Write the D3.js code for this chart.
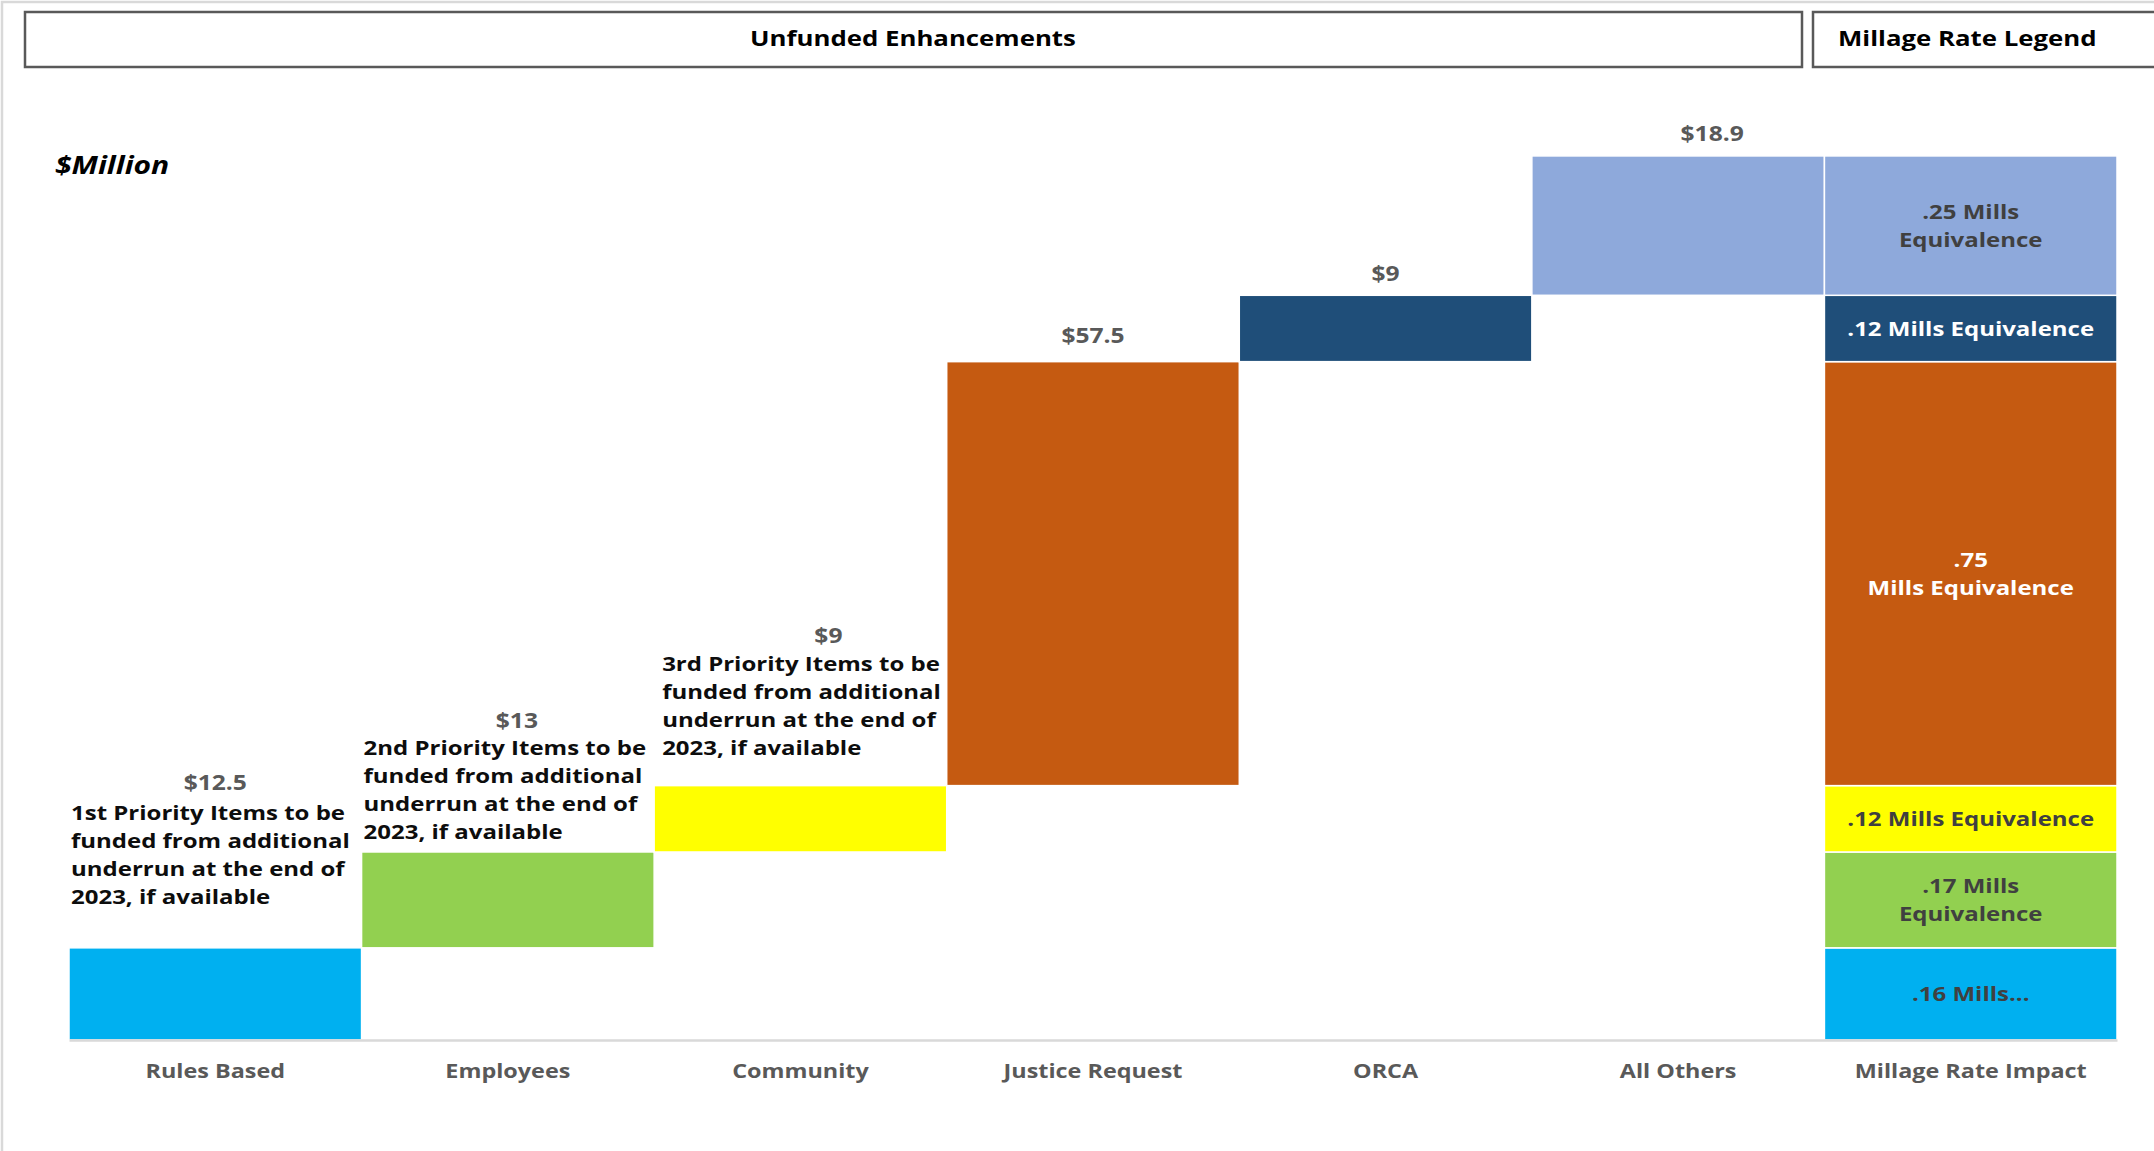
<!DOCTYPE html>
<html><head><meta charset="utf-8">
<script src="https://cdn.jsdelivr.net/npm/d3@7"></script>
<style>
body{margin:0;background:#fff;}
svg{display:block;font-family:'Open Sans',sans-serif;}
</style>
</head><body>
<script>
// ---------- DATA ----------
const categories = ["Rules Based","Employees","Community","Justice Request","ORCA","All Others","Millage Rate Impact"];
const values = [12.5, 13, 9, 57.5, 9, 18.9];
const valueLabels = ["$12.5","$13","$9","$57.5","$9","$18.9"];
const barColors = ["#00B0F0","#92D050","#FFFF00","#C55A11","#1F4E79","#8EA9DB"];
const millageLabels = [
  [".16 Mills..."],
  [".17 Mills","Equivalence"],
  [".12 Mills Equivalence"],
  [".75","Mills Equivalence"],
  [".12 Mills Equivalence"],
  [".25 Mills","Equivalence"]
];
const millageTextColors = ["#404040","#404040","#404040","#ffffff","#ffffff","#404040"];
const priorityNotes = [
  ["1st Priority Items to be","funded from additional","underrun at the end of","2023, if available"],
  ["2nd Priority Items to be","funded from additional","underrun at the end of","2023, if available"],
  ["3rd Priority Items to be","funded from additional","underrun at the end of","2023, if available"]
];
const chartTitle = "Unfunded Enhancements";
const legendTitle = "Millage Rate Legend";
const unitLabel = "$Million";

// ---------- LAYOUT (pixels, kept apart from data) ----------
const W = 2154, H = 1151;
const SX = 1.2;                       // horizontal text stretch of the original
const labelDy = [-165, -131, -150, -26, -22, -22];
const labelDx = [0, 9, 28, 0, 0, 34];
const noteDy = [-135, -104, -122];
const noteDx = [2, 2, 8];
const noteLineH = 28;

const svg = d3.select("body").append("svg").attr("width", W).attr("height", H);

function txt(parent, x, y, str, o = {}) {
  const fs = o.size || 20;
  return parent.append("text")
    .attr("transform", `translate(${x},${y + 0.357 * fs}) scale(${o.sx || SX},1)`)
    .attr("text-anchor", o.anchor || "middle")
    .attr("font-size", fs)
    .attr("font-weight", o.weight || 700)
    .attr("font-style", o.style || "normal")
    .attr("fill", o.fill || "#000")
    .text(str);
}

// outer chart-area border
svg.append("rect").attr("x", 2).attr("y", 2).attr("width", W + 20).attr("height", H + 20)
  .attr("fill", "none").attr("stroke", "#d9d9d9").attr("stroke-width", 2.5);

// header boxes
svg.append("rect").attr("x", 25).attr("y", 12).attr("width", 1777).attr("height", 55)
  .attr("fill", "#fff").attr("stroke", "#595959").attr("stroke-width", 2.5);
svg.append("rect").attr("x", 1813).attr("y", 12).attr("width", 400).attr("height", 55)
  .attr("fill", "#fff").attr("stroke", "#595959").attr("stroke-width", 2.5);
txt(svg, 913, 38, chartTitle, {size: 21.5});
txt(svg, 1838, 38, legendTitle, {size: 21.5, anchor: "start"});
txt(svg, 55, 165, unitLabel, {size: 25, anchor: "start", style: "italic"});

// ---------- SCALES ----------
const x = d3.scaleBand().domain(categories).range([69, 2117]).paddingInner(0).paddingOuter(0);
const y = d3.scaleLinear().domain([0, 120]).range([1040, 155.2]);

const ends = Array.from(d3.cumsum(values));
const starts = ends.map((e, i) => e - values[i]);
const bars = values.map((v, i) => ({i, cat: categories[i], start: starts[i], end: ends[i], color: barColors[i]}));

// waterfall bars
svg.append("g").selectAll("rect").data(bars).join("rect")
  .attr("x", d => x(d.cat))
  .attr("width", x.bandwidth())
  .attr("y", d => y(d.end))
  .attr("height", d => y(d.start) - y(d.end))
  .attr("fill", d => d.color)
  .attr("stroke", "#fff").attr("stroke-width", 1.5);

// millage stacked column
const mcat = categories[categories.length - 1];
svg.append("g").selectAll("rect").data(bars).join("rect")
  .attr("x", x(mcat))
  .attr("width", x.bandwidth())
  .attr("y", d => y(d.end))
  .attr("height", d => y(d.start) - y(d.end))
  .attr("fill", d => d.color)
  .attr("stroke", "#fff").attr("stroke-width", 1.5);

// axis
const axis = svg.append("g").attr("transform", "translate(0,1040)")
  .call(d3.axisBottom(x).tickSizeInner(0).tickSizeOuter(0).tickPadding(24));
axis.select(".domain").attr("stroke", "#d9d9d9").attr("stroke-width", 2.5);
axis.selectAll("text")
  .attr("font-family", "'Open Sans',sans-serif")
  .attr("font-size", 19.5).attr("font-weight", 700).attr("fill", "#595959")
  .attr("transform", `scale(${SX},1)`);

// value labels
const lg = svg.append("g");
bars.forEach((d, i) => {
  txt(lg, x(d.cat) + x.bandwidth() / 2 + labelDx[i], y(d.end) + labelDy[i], valueLabels[i],
      {size: 20.5, fill: "#595959"});
});

// priority notes
priorityNotes.forEach((lines, i) => {
  const d = bars[i];
  lines.forEach((ln, k) => {
    txt(lg, x(d.cat) + noteDx[i], y(d.end) + noteDy[i] + k * noteLineH, ln,
        {size: 20, anchor: "start", fill: "#0d0d0d"});
  });
});

// millage labels
bars.forEach((d, i) => {
  const lines = millageLabels[i];
  const cy = (y(d.start) + y(d.end)) / 2;
  const lh = 27.5;
  lines.forEach((ln, k) => {
    txt(lg, x(mcat) + x.bandwidth() / 2, cy + (k - (lines.length - 1) / 2) * lh, ln,
        {size: 20, fill: millageTextColors[i]});
  });
});
</script>
</body></html>
